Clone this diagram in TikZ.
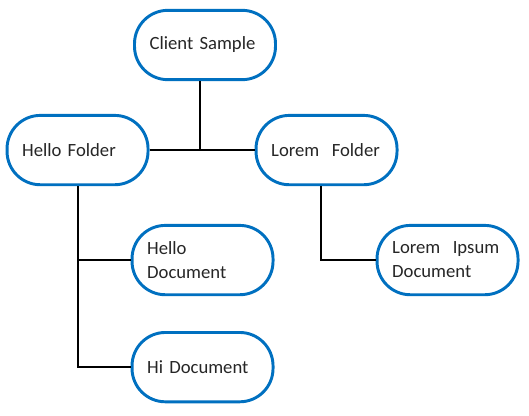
\documentclass[tikz,border=0pt]{standalone}
\usepackage{fontspec}
\setmainfont{Carlito}
\usetikzlibrary{positioning}

\begin{document}
\begin{tikzpicture}[
            ITEM/.style={rectangle, rounded corners=25pt, draw={rgb,255:red,0;green,112;blue,192}, fill=white, line width=2.2pt,
                minimum width=105.75pt, minimum height=52pt, text width=83pt, inner xsep=11pt, align=left,
                text=black!85, font=\fontsize{14}{18}\selectfont},
            LINK/.style={draw=black, line width=1.5pt},
        ]
        \useasboundingbox (0,0) rectangle (396.75pt,-311.25pt);

        \node[ITEM]    (Client)    at (153.75pt,-33.75pt) {Client Sample};
        \node[ITEM]    (HelloFolder)    [below=24.6pt of Client, xshift=-95.6pt] {Hello Folder};
        \node[ITEM]    (LoremFolder)    [right=78.8pt of HelloFolder] {Lorem\ \ Folder};
        \node[ITEM]    (HelloDoc)    [below=28.3pt of HelloFolder, xshift=93.75pt] {Hello\\Document};
        \node[ITEM]    (HiDoc)    [below=26.1pt of HelloDoc] {Hi Document};
        \node[ITEM]    (LoremDoc)    [right=75.8pt of HelloDoc] {Lorem\ \ Ipsum\\Document};

        \draw[LINK] (HelloFolder.east) -- (LoremFolder.west);
        \draw[LINK] ([xshift=-3.75pt]Client.south) -- ([xshift=-3.75pt]Client.south |- HelloFolder.east);
        \draw[LINK] (HelloFolder.south) |- (HiDoc.west);
        \draw[LINK] (HelloFolder.south |- HelloDoc.west) -- (HelloDoc.west);
        \draw[LINK] ([xshift=-4.5pt]LoremFolder.south) |- (LoremDoc.west);

    \end{tikzpicture}
\end{document}
